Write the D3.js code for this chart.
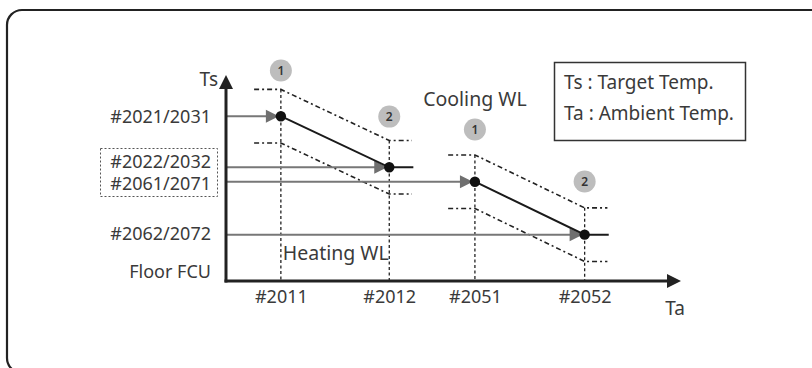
<!DOCTYPE html>
<html>
<head>
<meta charset="utf-8">
<script src="https://cdn.jsdelivr.net/npm/d3@7"></script>
<style>
  html, body { margin: 0; padding: 0; background: #fff; }
  svg { display: block; }
  text { font-family: "Noto Sans", "Open Sans", sans-serif; fill: #3a3a3a; }
</style>
</head>
<body>
<svg id="chart" width="812" height="368"></svg>
<script>
// ---- data (abstract schematic units) ----
const taLabels = ["#2011", "#2012", "#2051", "#2052"];
const taValues = [2.05, 6.1, 9.3, 13.4];

const tsLabels = ["#2021/2031", "#2022/2032", "#2061/2071", "#2062/2072", "Floor FCU"];
const tsLabelValues = [7.97, 5.78, 4.71, 2.28, 0.44];

// water-law lines: [Ta, Ts] of point 1 and point 2
const heatingWL = [[2.05, 8.0], [6.1, 5.52]];
const coolingWL = [[9.3, 4.82], [13.4, 2.25]];
const bandOffset = 1.3;     // Ts offset of the dash-dot tolerance bands
const bandLeft = 1.0;       // Ta extension of bands left of point 1
const bandRight = 0.85;     // Ta extension right of point 2
const lineRight = 0.9;      // black line extension right of point 2

// gray input arrows: [Ts, Ta target]
const inputLines = [[8.0, 2.05], [5.52, 6.1], [4.82, 9.3], [2.25, 13.4]];

// numbered markers: [label, Ta, Ts]
const markers = [["1", 2.05, 10.22], ["2", 6.1, 7.98], ["1", 9.3, 7.35], ["2", 13.4, 4.83]];

const legendLines = ["Ts : Target Temp.", "Ta : Ambient Temp."];
const sectionLabels = [["Cooling WL", 9.3, 8.78], ["Heating WL", 4.1, 1.3]];

// ---- layout ----
const svg = d3.select("#chart");
const x = d3.scaleLinear().domain([0, 17]).range([226, 681]);
const y = d3.scaleLinear().domain([0, 10]).range([281, 75]);

// outer rounded frame
svg.append("rect")
  .attr("x", 7).attr("y", 10).attr("width", 830).attr("height", 363)
  .attr("rx", 15).attr("ry", 15)
  .attr("fill", "none").attr("stroke", "#222").attr("stroke-width", 2.2);

const g = svg.append("g");

// vertical dotted guides
const allWL = [heatingWL, coolingWL];
allWL.forEach(wl => {
  wl.forEach(p => {
    g.append("line")
      .attr("x1", x(p[0])).attr("x2", x(p[0]))
      .attr("y1", y(p[1] + bandOffset)).attr("y2", y(0))
      .attr("stroke", "#222").attr("stroke-width", 1.3)
      .attr("stroke-dasharray", "3,2.5");
  });
});

// dash-dot tolerance bands
allWL.forEach(wl => {
  [bandOffset, -bandOffset].forEach(off => {
    const pts = [
      [wl[0][0] - bandLeft, wl[0][1] + off],
      [wl[0][0], wl[0][1] + off],
      [wl[1][0], wl[1][1] + off],
      [wl[1][0] + bandRight, wl[1][1] + off]
    ];
    g.append("path")
      .attr("d", d3.line().x(d => x(d[0])).y(d => y(d[1]))(pts))
      .attr("fill", "none").attr("stroke", "#222").attr("stroke-width", 1.6)
      .attr("stroke-dasharray", "5,3,2,3");
  });
});

// gray input lines with arrowheads
inputLines.forEach(d => {
  const yy = y(d[0]);
  const xt = x(d[1]) - 2;
  g.append("line")
    .attr("x1", x(0)).attr("x2", xt - 10)
    .attr("y1", yy).attr("y2", yy)
    .attr("stroke", "#777").attr("stroke-width", 2);
  g.append("path")
    .attr("d", `M${xt},${yy} L${xt - 13},${yy - 6.5} L${xt - 13},${yy + 6.5} Z`)
    .attr("fill", "#6f6f6f");
});

// black WL lines and points
allWL.forEach(wl => {
  const pts = [wl[0], wl[1], [wl[1][0] + lineRight, wl[1][1]]];
  g.append("path")
    .attr("d", d3.line().x(d => x(d[0])).y(d => y(d[1]))(pts))
    .attr("fill", "none").attr("stroke", "#1a1a1a").attr("stroke-width", 2);
  wl.forEach(p => {
    g.append("circle").attr("cx", x(p[0])).attr("cy", y(p[1])).attr("r", 5.2).attr("fill", "#111");
  });
});

// numbered markers
markers.forEach(m => {
  g.append("circle").attr("cx", x(m[1])).attr("cy", y(m[2])).attr("r", 11).attr("fill", "#bdbdbd");
  g.append("text").attr("x", x(m[1])).attr("y", y(m[2]) + 4.5)
    .attr("text-anchor", "middle").attr("font-size", 12).attr("font-weight", 600)
    .style("fill", "#333").text(m[0]);
});

// axes lines
g.append("line").attr("x1", x(0)).attr("x2", x(0)).attr("y1", y(0) + 1.5).attr("y2", y(10) + 12)
  .attr("stroke", "#222").attr("stroke-width", 3);
g.append("path")
  .attr("d", `M${x(0)},${y(10)} L${x(0) - 7},${y(10) + 14} L${x(0) + 7},${y(10) + 14} Z`)
  .attr("fill", "#222");
g.append("line").attr("x1", x(0) - 1.5).attr("x2", x(17) - 12).attr("y1", y(0)).attr("y2", y(0))
  .attr("stroke", "#222").attr("stroke-width", 3);
g.append("path")
  .attr("d", `M${x(17)},${y(0)} L${x(17) - 14},${y(0) - 7} L${x(17) - 14},${y(0) + 7} Z`)
  .attr("fill", "#222");

// x-axis tick labels via d3 axis
const xAxis = d3.axisBottom(x).tickValues(taValues).tickSize(0)
  .tickFormat((d, i) => taLabels[i]);
const xg = svg.append("g").attr("transform", `translate(0,${y(0) + 6})`).call(xAxis);
xg.select(".domain").remove();
xg.selectAll("text").attr("font-size", 18).attr("font-family", "Noto Sans").style("fill", "#3a3a3a");

// y-axis tick labels via d3 axis
const yAxis = d3.axisLeft(y).tickValues(tsLabelValues).tickSize(0)
  .tickFormat((d, i) => tsLabels[i]);
const yg = svg.append("g").attr("transform", `translate(${x(0) - 12},0)`).call(yAxis);
yg.select(".domain").remove();
yg.selectAll("text").attr("font-size", 18).attr("font-family", "Noto Sans").style("fill", "#3a3a3a");

// dotted box around shared labels
svg.append("rect").attr("x", 100.5).attr("y", 148.5).attr("width", 117).attr("height", 48)
  .attr("fill", "none").attr("stroke", "#555").attr("stroke-width", 1)
  .attr("stroke-dasharray", "2,2");

// axis titles
svg.append("text").attr("x", x(0) - 8).attr("y", 86).attr("text-anchor", "end")
  .attr("font-size", 19).text("Ts");
svg.append("text").attr("x", 675).attr("y", 315).attr("text-anchor", "middle")
  .attr("font-size", 19).text("Ta");

// section labels
sectionLabels.forEach(s => {
  svg.append("text").attr("x", x(s[1])).attr("y", y(s[2]) + 6)
    .attr("text-anchor", "middle").attr("font-size", 19.5).text(s[0]);
});

// legend box
svg.append("rect").attr("x", 554.5).attr("y", 62.5).attr("width", 191).attr("height", 78)
  .attr("fill", "none").attr("stroke", "#333").attr("stroke-width", 1.5);
legendLines.forEach((t, i) => {
  svg.append("text").attr("x", 564).attr("y", 89 + i * 31).attr("font-size", 19).text(t);
});
</script>
</body>
</html>
